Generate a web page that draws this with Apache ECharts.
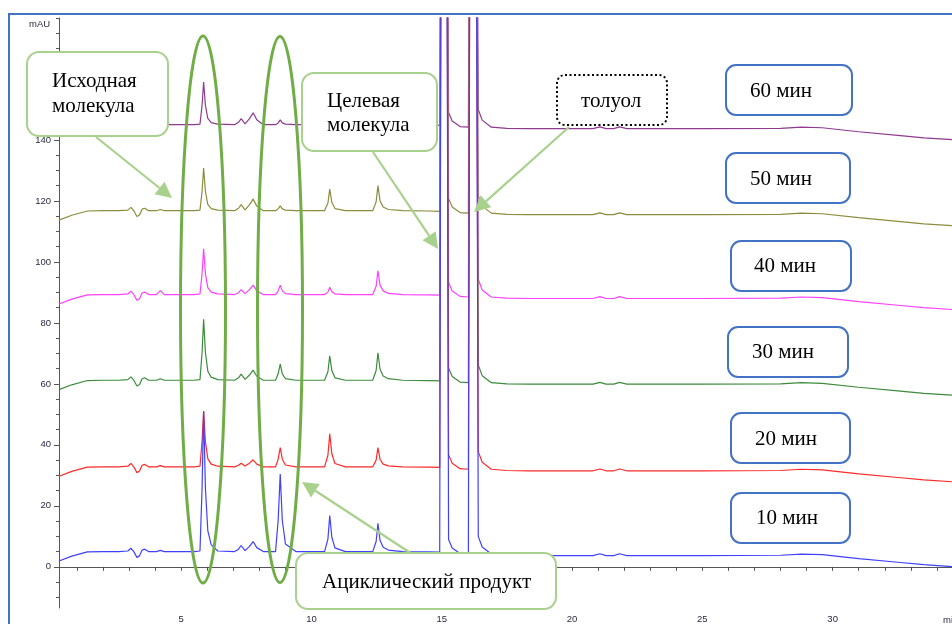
<!DOCTYPE html>
<html><head><meta charset="utf-8">
<script src="https://cdn.jsdelivr.net/npm/echarts@6/dist/echarts.min.js"></script>
<style>html,body{margin:0;padding:0;background:#fff}#c{width:952px;height:624px}</style>
</head><body><div id="c"></div>
<script>
// Retention time grid (min)
const T = [0.31,0.8,1.4,2.0,2.6,2.95,3.07,3.18,3.3,3.4,
3.5,3.6,3.75,4.05,4.2,4.35,4.8,5.5,5.72,5.8,
5.86,5.93,6.02,6.15,6.4,7.05,7.2,7.3,7.45,7.62,
7.76,7.9,8.15,8.62,8.72,8.8,8.88,9.0,9.4,10.5,
10.63,10.7,10.78,10.9,11.3,12.35,12.48,12.55,12.63,12.75,
12.95,13.5,14.5,14.92,14.99,15.08,15.17,15.26,15.4,15.7,
16.02,16.1,16.2,16.3,16.4,16.55,16.9,17.5,18.3,20.8,
21.07,21.3,21.6,21.82,22.1,25.0,28.0,28.8,29.6,31.0,
32.5,33.5,34.58];

// Signals (mAU, offset traces)
const v10 = [1.9,3.5,4.9,5,5,5.2,6.1,5,3.1,3.6,
5.5,5.8,5,5,5.4,5,5,5,5.2,25.7,
51,25.7,11.9,7.3,5.2,5,5.8,7,5.3,6.7,
8.3,6.3,5,5,15.2,30.4,15.2,7.5,5,5,
9.1,16.8,9.7,6.2,5,5,8.3,14.3,8.7,6.4,
5.5,5,4.9,4.8,300,600,300,9,6.2,4.4,
4.2,300,600,300,10,6.5,4.2,3.8,3.7,3.7,
4.3,3.7,3.7,4.3,3.7,3.7,3.8,4.2,4.0,2.7,
1.5,0.7,0.1];
const v20 = [29.7,31.3,32.7,32.8,32.8,33.0,33.9,32.8,30.9,31.4,
33.3,33.6,32.8,32.8,33.2,32.8,32.8,32.8,33.0,41.0,
51.1,41.0,35.5,33.7,33.0,32.8,33.3,34.0,33.1,34.0,
35.1,33.7,32.8,32.8,35.3,39.1,35.3,33.4,32.8,32.8,
36.6,43.6,37.1,33.9,32.8,32.8,35.0,39.1,35.3,33.7,
33.1,32.8,32.7,32.6,300,600,300,36.8,34.0,32.2,
32.0,300,600,300,37.8,34.3,32.0,31.6,31.5,31.5,
32.1,31.5,31.5,32.1,31.5,31.5,31.6,32.0,31.8,30.5,
29.3,28.5,27.9];
const v30 = [58.1,59.7,61.1,61.2,61.2,61.4,62.3,61.2,59.3,59.8,
61.7,62.0,61.2,61.2,61.7,61.2,61.2,61.2,61.4,70.2,
81.2,70.2,64.2,62.2,61.4,61.2,62.0,63.2,61.5,62.9,
64.5,62.5,61.2,61.2,63.3,66.5,63.3,61.7,61.2,61.2,
64.0,69.2,64.4,62.0,61.2,61.2,64.4,70.2,64.8,62.6,
61.7,61.2,61.1,61.0,300,600,300,65.2,62.4,60.6,
60.4,300,600,300,66.2,62.7,60.4,60.0,59.9,59.9,
60.5,59.9,59.9,60.5,59.9,59.9,60.0,60.4,60.2,58.9,
57.7,56.9,56.3];
const v40 = [86.2,87.8,89.2,89.3,89.3,89.5,90.4,89.3,87.4,87.9,
89.8,90.1,89.3,89.3,90.6,89.3,89.3,89.3,89.5,96.1,
104.3,96.1,91.6,90.1,89.5,89.3,89.9,90.9,89.6,90.9,
92.4,90.5,89.3,89.3,90.5,92.4,90.5,89.6,89.3,89.3,
90.1,91.7,90.3,89.5,89.3,89.3,92.0,97.1,92.4,90.5,
89.7,89.3,89.2,89.1,300,600,300,93.3,90.5,88.7,
88.5,300,600,300,94.3,90.8,88.5,88.1,88.0,88.0,
88.6,88.0,88.0,88.6,88.0,88.0,88.1,88.5,88.3,87.0,
85.8,85.0,84.4];
const v50 = [113.7,115.3,116.7,116.8,116.8,117.0,117.9,116.8,114.9,115.4,
117.3,117.6,116.8,116.8,117.2,116.8,116.8,116.8,117.0,123.1,
130.8,123.1,118.9,117.5,117.0,116.8,117.6,118.8,117.1,118.7,
120.6,118.3,116.8,116.8,117.4,118.4,117.4,117.0,116.8,116.8,
119.3,123.9,119.6,117.5,116.8,116.8,119.7,125.0,120.1,118.0,
117.2,116.8,116.7,116.6,300,600,300,120.8,118.0,116.2,
116.0,300,600,300,121.8,118.3,116.0,115.6,115.5,115.5,
116.1,115.5,115.5,116.1,115.5,115.5,115.6,116.0,115.8,114.5,
113.3,112.5,111.9];
const v60 = [141.9,143.5,144.9,145,145,145.2,146.1,145,143.1,143.6,
145.5,145.8,145,145,145.4,145,145,145,145.2,151.3,
159.0,151.3,147.1,145.7,145.2,145,145.8,147.0,145.3,147.0,
148.9,146.6,145,145,145.6,146.6,145.6,145.2,145,145,
147.1,151.0,147.4,145.6,145,145,147.8,153.0,148.2,146.2,
145.4,145,144.9,144.8,300,600,300,149,146.2,144.4,
144.2,300,600,300,150,146.5,144.2,143.8,143.7,143.7,
144.3,143.7,143.7,144.3,143.7,143.7,143.8,144.2,144.0,142.7,
141.5,140.7,140.1];

const seriesNames = ['60 мин','50 мин','40 мин','30 мин','20 мин','10 мин'];
const seriesValues = [v60, v50, v40, v30, v20, v10];
const seriesColors = ['#8e3a8e','#8c8c3c','#ff40ff','#3d8b3d','#ff2a2a','#4040ff'];

const yLabelValues = [0,20,40,60,80,100,120,140,160];
const yMinorValues = [-10,-5,0,5,10,15,20,25,30,35,40,45,50,55,60,65,70,75,80,85,90,95,100,105,110,115,120,125,130,135,140,145,150,155,160,165,170,175,180];
const xLabelValues = [5,10,15,20,25,30];
const xTickValues = [1,2,3,4,5,6,7,8,9,10,11,12,13,14,15,16,17,18,19,20,21,22,23,24,25,26,27,28,29,30,31,32,33,34];

const timeBoxes = ['60 мин','50 мин','40 мин','30 мин','20 мин','10 мин'];

const chart = echarts.init(document.getElementById('c'), null, {renderer:'canvas'});

const G = '#a9d18e', DG = '#70ad47', BL = '#4472c4';
const FONT = '21px "Liberation Serif", "Times New Roman", serif';
function box(x,y,w,h,stroke,r,dash){
  return {type:'rect', z:100, shape:{x:x,y:y,width:w,height:h,r:r}, style:{fill:'#fff', stroke:stroke, lineWidth:2, lineDash:dash||null}};
}
function txt(x,y,text){
  return {type:'text', z:101, style:{x:x,y:y,text:text,font:FONT,fill:'#000',verticalAlign:'middle'}};
}
function arrow(x1,y1,x2,y2){
  const a=Math.atan2(y2-y1,x2-x1), L=16, W=8;
  const bx=x2-L*Math.cos(a), by=y2-L*Math.sin(a);
  return [
    {type:'line', z:99, shape:{x1:x1,y1:y1,x2:bx,y2:by}, style:{stroke:G,lineWidth:2.2}},
    {type:'polygon', z:99, shape:{points:[[x2,y2],[bx+W*Math.sin(a),by-W*Math.cos(a)],[bx-W*Math.sin(a),by+W*Math.cos(a)]]}, style:{fill:G}}
  ];
}

const boxGeom = [[726,65,126,50],[726,153,124,50],[731,241,120,50],[728,327,120,50],[731,413,119,50],[731,493,119,50]];
const boxText = [[750,91],[750,179],[754,266],[752,352],[755,439],[756,518]];

let graphics = [];
graphics.push({type:'rect', z:98, shape:{x:9,y:14,width:2000,height:2000}, style:{fill:'none', stroke:BL, lineWidth:2}});
graphics.push({type:'ellipse', z:100, shape:{cx:203,cy:309.5,rx:22.5,ry:273.5}, style:{fill:'none',stroke:DG,lineWidth:3}});
graphics.push({type:'ellipse', z:100, shape:{cx:280,cy:309.5,rx:22.5,ry:273}, style:{fill:'none',stroke:DG,lineWidth:3}});
graphics = graphics.concat(arrow(96,137,172,198));
graphics = graphics.concat(arrow(373,152,438,249));
graphics = graphics.concat(arrow(569,127,474,212));
graphics = graphics.concat(arrow(412,554,302,482));
graphics.push(box(27,52,141,84,G,12));
graphics.push(txt(52,81,'Исходная'));
graphics.push(txt(52,106,'молекула'));
graphics.push(box(302,73,135,78,G,12));
graphics.push(txt(327,101,'Целевая'));
graphics.push(txt(327,125,'молекула'));
graphics.push(box(557,75,110,50,'#000',8,[2,2.5]));
graphics.push(txt(581,101,'толуол'));
graphics.push(box(296,553,260,56,G,12));
graphics.push(txt(322,582,'Ациклический продукт'));
timeBoxes.forEach((t,i)=>{
  const g=boxGeom[i];
  graphics.push(box(g[0],g[1],g[2],g[3],BL,10));
  graphics.push(txt(boxText[i][0],boxText[i][1],t));
});
graphics.push({type:'text', z:101, style:{x:29,y:24,text:'mAU',font:'9.5px "Liberation Sans", Arial, sans-serif',fill:'#2a2a44',verticalAlign:'middle'}});
graphics.push({type:'text', z:101, style:{x:943,y:620,text:'min',font:'9.5px "Liberation Sans", Arial, sans-serif',fill:'#2a2a44',verticalAlign:'middle'}});

const axisLabelStyle = {fontFamily:'"Liberation Sans", Arial, sans-serif', fontSize:9.5, color:'#2a2a44'};

const option = {
  animation:false,
  backgroundColor:'#fff',
  grid:{left:59, top:18, right:0, bottom:15, containLabel:false},
  xAxis:{
    type:'value', min:0.31, max:34.58,
    axisLine:{show:true, lineStyle:{color:'#555', width:1}},
    axisTick:{show:true, inside:false, length:4, customValues:xTickValues, lineStyle:{color:'#555'}},
    axisLabel:Object.assign({customValues:xLabelValues, margin:6}, axisLabelStyle),
    splitLine:{show:false}
  },
  yAxis:[{
    type:'value', min:-13.5, max:180, position:'left',
    axisLine:{show:true, lineStyle:{color:'#555', width:1}},
    axisTick:{show:true, length:3, customValues:yMinorValues, lineStyle:{color:'#555'}},
    axisLabel:Object.assign({customValues:yLabelValues, margin:8}, axisLabelStyle),
    splitLine:{show:false}
  },{
    type:'value', min:-13.5, max:180, position:'left', offset:0,
    axisLine:{show:false},
    axisTick:{show:true, length:5, customValues:yLabelValues, lineStyle:{color:'#555'}},
    axisLabel:{show:false},
    splitLine:{show:false}
  }],
  series: seriesNames.map((n,k)=>({
    name:n, type:'line', yAxisIndex:0, showSymbol:false, clip:true,
    lineStyle:{color:seriesColors[k], width:1.2},
    data: T.map((t,i)=>[t, seriesValues[k][i]])
  })),
  graphic: graphics
};
chart.setOption(option);
</script></body></html>
